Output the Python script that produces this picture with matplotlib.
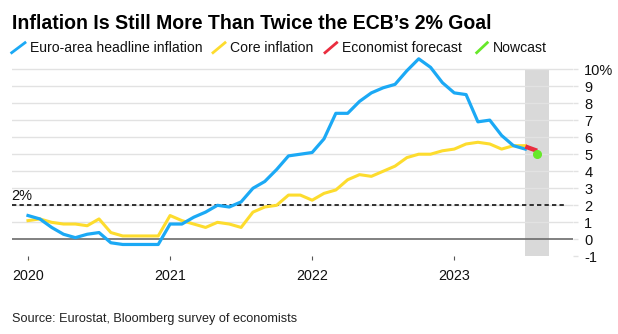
import matplotlib
matplotlib.use("Agg")
import matplotlib.pyplot as plt
from matplotlib.lines import Line2D
import matplotlib.transforms as mtransforms
import numpy as np

# ---------------- data ----------------
start_year = 2020
headline = [1.4, 1.2, 0.7, 0.3, 0.1, 0.3, 0.4, -0.2, -0.3, -0.3, -0.3, -0.3,
            0.9, 0.9, 1.3, 1.6, 2.0, 1.9, 2.2, 3.0, 3.4, 4.1, 4.9, 5.0,
            5.1, 5.9, 7.4, 7.4, 8.1, 8.6, 8.9, 9.1, 9.9, 10.6, 10.1, 9.2,
            8.6, 8.5, 6.9, 7.0, 6.1, 5.5, 5.3]
core = [1.1, 1.2, 1.0, 0.9, 0.9, 0.8, 1.2, 0.4, 0.2, 0.2, 0.2, 0.2,
        1.4, 1.1, 0.9, 0.7, 1.0, 0.9, 0.7, 1.6, 1.9, 2.0, 2.6, 2.6,
        2.3, 2.7, 2.9, 3.5, 3.8, 3.7, 4.0, 4.3, 4.8, 5.0, 5.0, 5.2,
        5.3, 5.6, 5.7, 5.6, 5.3, 5.5, 5.5]
forecast_months = ["2023-07", "2023-08"]
forecast_values = [5.45, 5.2]
nowcast_month = "2023-08"
nowcast_value = 5.0
shade_months = ["2023-07", "2023-09"]
shade_range = [-1, 10]
target = 2
year_ticks = [2020, 2021, 2022, 2023]
y_ticks = [-1, 0, 1, 2, 3, 4, 5, 6, 7, 8, 9, 10]
y_tick_labels = ["-1", "0", "1", "2", "3", "4", "5", "6", "7", "8", "9", "10%"]
legend_labels = ["Euro-area headline inflation", "Core inflation",
                 "Economist forecast", "Nowcast"]
title = "Inflation Is Still More Than Twice the ECB\u2019s 2% Goal"
source = "Source: Eurostat, Bloomberg survey of economists"

def mi(s):
    y, m = s.split("-")
    return (int(y) - start_year) * 12 + int(m) - 1

x_hist = np.arange(len(headline))
x_core = np.arange(len(core))

# ---------------- style ----------------
BLUE = "#1ba9f5"
YELLOW = "#fddc2e"
RED = "#ea2d3f"
GREEN = "#67e82a"
GRID = "#e2e2e2"
FONT = "Liberation Sans"
plt.rcParams["font.family"] = [FONT, "DejaVu Sans"]

W, H = 618, 334
fig = plt.figure(figsize=(W / 100, H / 100), dpi=100)

def px(x, y):
    return x / W, 1 - y / H

# axes: x 12..573 px, y 52..256.4 px
ax = fig.add_axes([12 / W, (H - 256.4) / H, (573 - 12) / W, (256.4 - 52) / H])
ax.set_xlim(-1.35, 46.03)
ax.set_ylim(-1, 11)
for s in ax.spines.values():
    s.set_visible(False)

# shading
ax.fill_between([mi(shade_months[0]), mi(shade_months[1])],
                shade_range[0], shade_range[1], color="#d9d9d9", lw=0, zorder=0.5)
# gridlines
for v in y_ticks:
    if v > 0:
        ax.axhline(v, color=GRID, lw=1.0, zorder=1)
ax.axhline(0, color="#6b6b6b", lw=1.2, zorder=2)
ax.axhline(target, xmin=0, xmax=(566 - 12) / (573 - 12), color="#111111",
           lw=1.2, ls=(0, (2.6, 1.9)), zorder=2)

# lines
ax.plot(x_core, core, color=YELLOW, lw=2.2, zorder=3, solid_joinstyle="round")
ax.plot(x_hist, headline, color=BLUE, lw=2.3, zorder=4, solid_joinstyle="round")
ax.plot([mi(m) for m in forecast_months], forecast_values, color=RED, lw=3.2,
        zorder=5, solid_capstyle="butt")
ax.plot([mi(nowcast_month)], [nowcast_value], "o", color=GREEN, ms=5.5,
        mec=GREEN, zorder=6)

# y axis on right
ax.yaxis.tick_right()
ax.set_yticks(y_ticks)
ax.set_yticklabels(y_tick_labels)
ax.tick_params(axis="y", length=3.6, width=1.0, color=GRID, pad=4.5,
               labelsize=10.5, labelcolor="#111111")
for lbl in ax.get_yticklabels():
    lbl.set_horizontalalignment("left")

# x ticks
ax.set_xticks([(y - start_year) * 12 for y in year_ticks])
ax.set_xticklabels([])
ax.tick_params(axis="x", length=3.0, width=0.8, color="#555555", direction="out")
ax.tick_params(axis="x", pad=0)
bt = mtransforms.blended_transform_factory(ax.transData, fig.transFigure)
for y in year_ticks:
    ax.text((y - start_year) * 12, 1 - 280 / H, str(y), transform=bt,
            ha="center", va="baseline", fontsize=10.3, color="#111111")

# "2%" label
fig.text(*px(11.5, 200), "2%", fontsize=10.5, color="#111111", va="baseline", ha="left")

renderer = fig.canvas.get_renderer()

def fit(t, target_w):
    w = t.get_window_extent(renderer).width
    t.set_fontsize(t.get_fontsize() * target_w / w)

# title
t = fig.text(*px(12, 29.3), title, fontsize=14, fontweight="bold",
             color="#000000", va="baseline", ha="left")
fit(t, 482)

# legend
slash = [(11.7, 25.0), (213, 225), (325, 336.7), (476.7, 487.3)]
text_x = [(30.0, 202), (229.5, 313.5), (342, 465), (492.5, 548)]
colors = [BLUE, YELLOW, RED, GREEN]
lt0 = fig.text(*px(text_x[0][0], 52.3), legend_labels[0], fontsize=10,
               color="#111111", va="baseline", ha="left")
fit(lt0, text_x[0][1] - text_x[0][0])
lsize = lt0.get_fontsize()
for i, (lab, c) in enumerate(zip(legend_labels, colors)):
    x0, x1 = slash[i]
    fig.add_artist(Line2D([x0 / W, x1 / W], [1 - 52.7 / H, 1 - 42.7 / H],
                          color=c, lw=2.0, transform=fig.transFigure))
    if i > 0:
        fig.text(*px(text_x[i][0], 52.3), lab, fontsize=lsize,
                 color="#111111", va="baseline", ha="left")

# source
st = fig.text(*px(11.5, 321.7), source, fontsize=9, color="#222222",
              va="baseline", ha="left")
fit(st, 284)

fig.savefig("out.png", dpi=100)
